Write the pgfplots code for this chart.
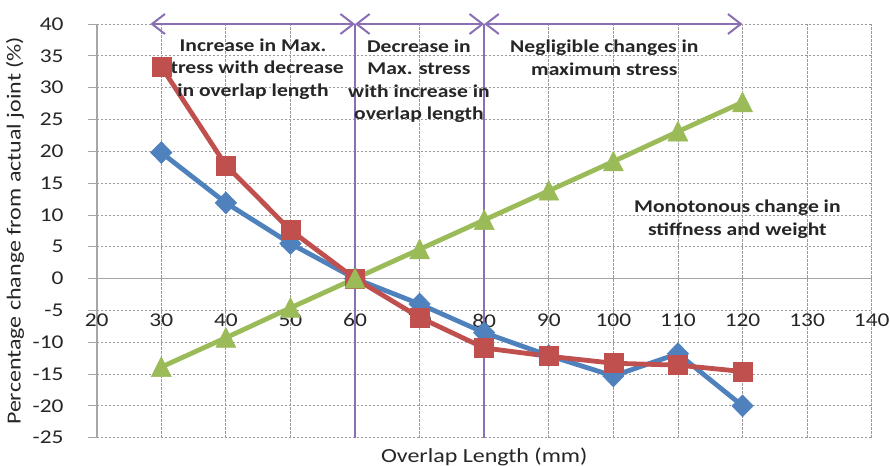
\documentclass[border=0pt]{standalone}
\usepackage{pgfplots}
\pgfplotsset{compat=1.18}
\usepackage{fontspec}
\setmainfont{Carlito}[FakeStretch=1.2]
\usetikzlibrary{arrows.meta}

\definecolor{sblue}{HTML}{4F81BD}
\definecolor{sred}{HTML}{C0504D}
\definecolor{sgreen}{HTML}{9BBB59}
\definecolor{spurple}{HTML}{8B6FB5}
\definecolor{axisgray}{HTML}{A6A6A6}
\definecolor{gridgray}{HTML}{9A9A9A}

\begin{document}
\begin{tikzpicture}
\begin{axis}[
  width=775bp, height=413.7bp, scale only axis,
  xmin=20, xmax=140, ymin=-25, ymax=40,
  xtick={20,30,...,140}, ytick={-25,-20,...,40},
  axis x line*=middle, axis y line*=left,
  hide obscured x ticks=false, hide obscured y ticks=false,
  axis line style={axisgray, line width=1.8bp},
  grid=major,
  major grid style={gridgray, line width=0.8bp, dash pattern=on 2.5bp off 1.5bp},
  tick align=outside,
  major tick length=9bp,
  xtick style={draw=none},
  ytick style={axisgray, line width=0.8bp},
  /pgf/number format/assume math mode=true,
  tick label style={font=\fontsize{19.5bp}{22bp}\selectfont, text=black!85},
  xticklabel style={anchor=north, inner sep=0pt, yshift=-26bp},
  yticklabel style={anchor=east, inner sep=0pt, xshift=-24bp},
  xlabel={Overlap Length (mm)},
  ylabel={Percentage change from actual joint (\%)},
  label style={font=\fontsize{20bp}{24bp}\selectfont, text=black!85},
  xlabel style={at={(axis description cs:0.5,-0.0459)}, anchor=center},
  ylabel style={at={(axis description cs:-0.1054,0.5)}, anchor=center},
  clip=false,
]

% simulated change in maximum stress (two joint configurations) and stiffness/weight
\addplot[sblue, line width=4.8bp, mark=diamond*, mark size=11bp,
  mark options={solid, fill=sblue, draw=sblue, line width=0.5bp, xscale=1.3}]
  coordinates {(30,19.8) (40,11.9) (50,5.5) (60,0) (70,-4.0) (80,-8.5)
               (90,-12.1) (100,-15.3) (110,-11.8) (120,-20.0)};
\addplot[sred, line width=4.8bp, mark=square*, mark size=9.5bp,
  mark options={solid, fill=sred, draw=sred, line width=0.5bp}]
  coordinates {(30,33.3) (40,17.8) (50,7.6) (60,0) (70,-6.1) (80,-10.9)
               (90,-12.2) (100,-13.3) (110,-13.6) (120,-14.6)};
\addplot[sgreen, line width=4.8bp, mark=triangle*, mark size=11.5bp,
  mark options={solid, fill=sgreen, draw=sgreen, line width=0.5bp, yscale=1.15, yshift=-2.5bp}]
  coordinates {(30,-13.9) (40,-9.3) (50,-4.6) (60,0) (70,4.6) (80,9.2)
               (90,13.8) (100,18.4) (110,23.1) (120,27.7)};

% region boundaries
\draw[spurple, line width=2bp] (axis cs:60,-25) -- (axis cs:60,40);
\draw[spurple, line width=2bp] (axis cs:80,-25) -- (axis cs:80,40);
\tikzset{barb/.style={spurple, line width=2bp,
  {Straight Barb[length=13bp, width=20bp]}-{Straight Barb[length=13bp, width=20bp]}}}
\draw[barb] (axis cs:28.3,40) -- (axis cs:60,40);
\draw[barb] (axis cs:60,40) -- (axis cs:80,40);
\draw[barb] (axis cs:80,40) -- (axis cs:120,40);

\tikzset{note/.style={align=center, inner sep=0pt, text=black!85,
  font=\bfseries\fontsize{18bp}{22.5bp}\selectfont}}
\node[note] at (axis cs:44.2,32.9) {Increase in Max.\\stress with decrease\\in overlap length};
\node[note] at (axis cs:69.9,31.0) {Decrease in\\Max. stress\\with increase in\\overlap length};
\node[note] at (axis cs:98.6,34.7) {Negligible changes in\\maximum stress};
\node[note] at (axis cs:119.2,9.33) {Monotonous change in\\stiffness and weight};

\coordinate (bbA) at (axis description cs:-0.12477,-0.06841);
\coordinate (bbB) at (axis description cs:1.02361,1.05801);
\end{axis}
\pgfresetboundingbox
\useasboundingbox (bbA) rectangle (bbB);
\end{tikzpicture}
\end{document}
